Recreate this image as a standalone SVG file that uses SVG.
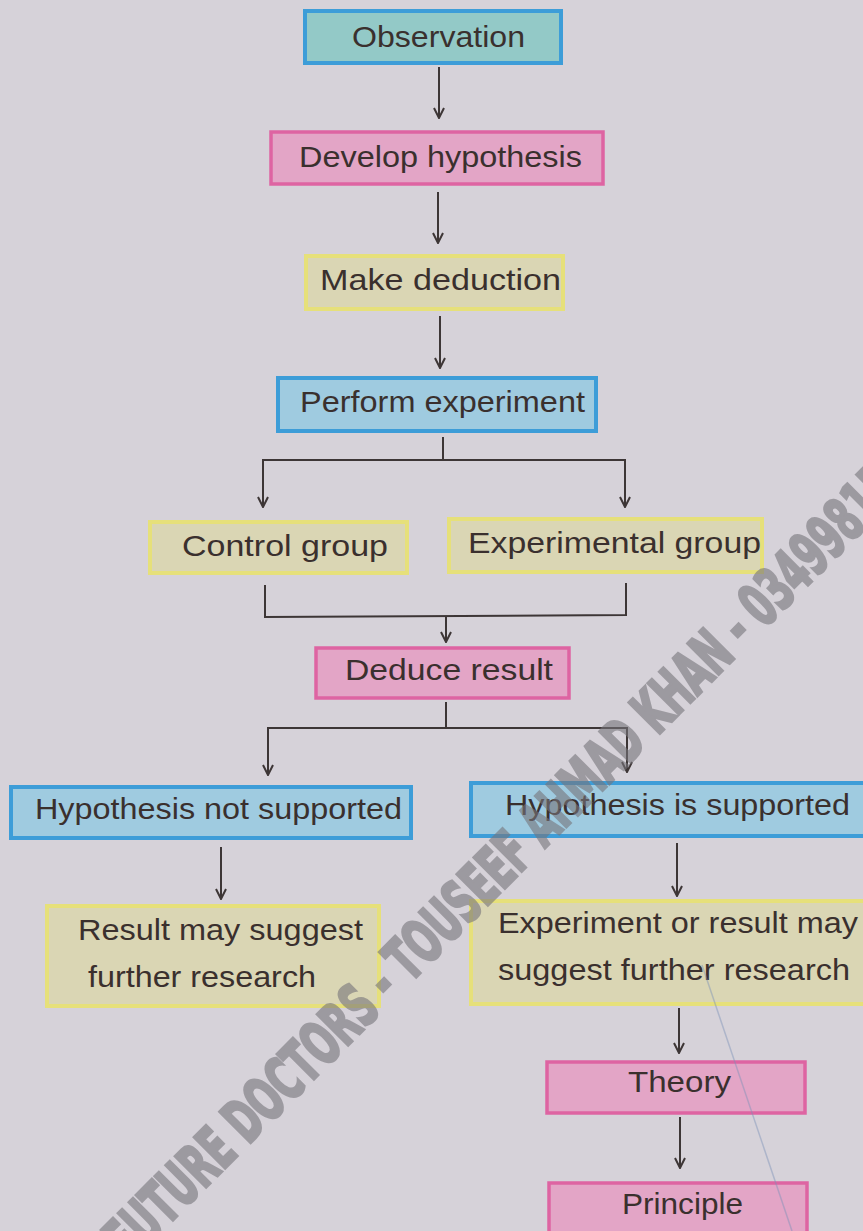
<svg xmlns="http://www.w3.org/2000/svg" width="863" height="1231" viewBox="0 0 863 1231">
<defs>
<style>
.bg{fill:#d6d2d9}
.blue{fill:#9fcbe0;stroke:#3d9dd8;stroke-width:4}
.teal{fill:#93c9c7;stroke:#3d9dd8;stroke-width:4}
.pink{fill:#e3a5c6;stroke:#de64a2;stroke-width:3.5}
.yellow{fill:#dad6b4;stroke:#e6e07a;stroke-width:4}
.t{font-family:"Liberation Sans",Arial,sans-serif;font-size:30px;fill:#3a302e;text-anchor:start}
.c{fill:none;stroke:#3d3636;stroke-width:2}
.wm{font-family:"DejaVu Sans Condensed","DejaVu Sans",sans-serif;font-weight:bold;font-size:60px;fill:#77757b;stroke:#77757b;stroke-width:3;stroke-linejoin:miter;opacity:0.6}
</style>
<marker id="ah" viewBox="0 0 12 12" refX="11" refY="6" markerWidth="12" markerHeight="12" markerUnits="userSpaceOnUse" orient="auto">
<path d="M1,1 L11,6 L1,11" fill="none" stroke="#3d3636" stroke-width="2"/>
</marker>
</defs>
<rect class="bg" x="0" y="0" width="863" height="1231"/>

<g id="connectors">
<line class="c" x1="439" y1="67" x2="439" y2="118" marker-end="url(#ah)"/>
<line class="c" x1="438" y1="192" x2="438" y2="243" marker-end="url(#ah)"/>
<line class="c" x1="440" y1="316" x2="440" y2="368" marker-end="url(#ah)"/>
<polyline class="c" points="443,437 443,460"/>
<polyline class="c" points="263,470 263,460 625,460 625,470"/>
<line class="c" x1="263" y1="468" x2="263" y2="507" marker-end="url(#ah)"/>
<line class="c" x1="625" y1="468" x2="625" y2="507" marker-end="url(#ah)"/>
<polyline class="c" points="265,585 265,617 626,615 626,583"/>
<line class="c" x1="446" y1="616" x2="446" y2="642" marker-end="url(#ah)"/>
<polyline class="c" points="446,702 446,728"/>
<polyline class="c" points="268,740 268,728 627,728 627,740"/>
<line class="c" x1="268" y1="738" x2="268" y2="775" marker-end="url(#ah)"/>
<line class="c" x1="627" y1="738" x2="627" y2="772" marker-end="url(#ah)"/>
<line class="c" x1="221" y1="847" x2="221" y2="899" marker-end="url(#ah)"/>
<line class="c" x1="677" y1="843" x2="677" y2="896" marker-end="url(#ah)"/>
<line class="c" x1="679" y1="1008" x2="679" y2="1053" marker-end="url(#ah)"/>
<line class="c" x1="680" y1="1117" x2="680" y2="1168" marker-end="url(#ah)"/>
</g>

<g id="n-observation">
<rect class="teal" x="305" y="11" width="256" height="52"/>
<text class="t" x="352" y="47" textLength="173" lengthAdjust="spacingAndGlyphs">Observation</text>
</g>
<g id="n-develop">
<rect class="pink" x="271" y="132" width="332" height="52"/>
<text class="t" x="299" y="167" textLength="283" lengthAdjust="spacingAndGlyphs">Develop hypothesis</text>
</g>
<g id="n-deduction">
<rect class="yellow" x="306" y="256" width="257" height="53"/>
<text class="t" x="320" y="290" textLength="241" lengthAdjust="spacingAndGlyphs">Make deduction</text>
</g>
<g id="n-perform">
<rect class="blue" x="278" y="378" width="318" height="53"/>
<text class="t" x="300" y="412" textLength="285" lengthAdjust="spacingAndGlyphs">Perform experiment</text>
</g>
<g id="n-control">
<rect class="yellow" x="150" y="522" width="257" height="51"/>
<text class="t" x="182" y="556" textLength="206" lengthAdjust="spacingAndGlyphs">Control group</text>
</g>
<g id="n-experimental">
<rect class="yellow" x="449" y="519" width="313" height="53"/>
<text class="t" x="468" y="553" textLength="293" lengthAdjust="spacingAndGlyphs">Experimental group</text>
</g>
<g id="n-deduce">
<rect class="pink" x="316" y="648" width="253" height="50"/>
<text class="t" x="345" y="680" textLength="208" lengthAdjust="spacingAndGlyphs">Deduce result</text>
</g>
<g id="n-not-supported">
<rect class="blue" x="11" y="787" width="400" height="51"/>
<text class="t" x="35" y="819" textLength="367" lengthAdjust="spacingAndGlyphs">Hypothesis not supported</text>
</g>
<g id="n-supported">
<rect class="blue" x="471" y="783" width="400" height="53"/>
<text class="t" x="505" y="815" textLength="345" lengthAdjust="spacingAndGlyphs">Hypothesis is supported</text>
</g>
<g id="n-result-left">
<rect class="yellow" x="47" y="906" width="332" height="100"/>
<text class="t" x="78" y="940" textLength="285" lengthAdjust="spacingAndGlyphs">Result may suggest</text>
<text class="t" x="88" y="987" textLength="228" lengthAdjust="spacingAndGlyphs">further research</text>
</g>
<g id="n-result-right">
<rect class="yellow" x="471" y="901" width="400" height="103"/>
<text class="t" x="498" y="933" textLength="360" lengthAdjust="spacingAndGlyphs">Experiment or result may</text>
<text class="t" x="498" y="980" textLength="352" lengthAdjust="spacingAndGlyphs">suggest further research</text>
</g>
<g id="n-theory">
<rect class="pink" x="547" y="1062" width="258" height="51"/>
<text class="t" x="628" y="1092" textLength="103" lengthAdjust="spacingAndGlyphs">Theory</text>
</g>
<g id="n-principle">
<rect class="pink" x="549" y="1183" width="258" height="60"/>
<text class="t" x="622" y="1214" textLength="121" lengthAdjust="spacingAndGlyphs">Principle</text>
</g>

<line x1="702" y1="965" x2="792" y2="1231" stroke="#7d92b8" stroke-width="1.5" opacity="0.45"/>

<g id="watermark">
<text class="wm" transform="translate(114,1248) rotate(-45)" x="0" y="22" textLength="1092" lengthAdjust="spacingAndGlyphs">FUTURE DOCTORS - TOUSEEF AHMAD KHAN - 03499815</text>
</g>
</svg>
